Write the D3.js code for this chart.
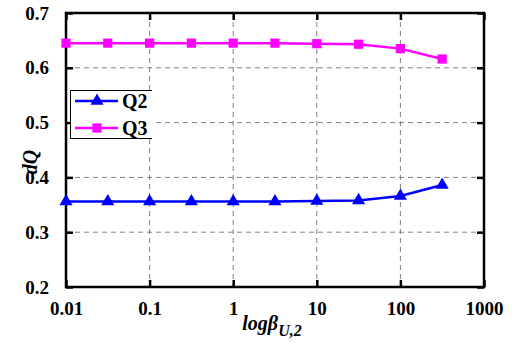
<!DOCTYPE html>
<html>
<head>
<meta charset="utf-8">
<script src="https://cdn.jsdelivr.net/npm/d3@7"></script>
<style>
  body { margin: 0; background: #fff; }
  svg { display: block; }
  svg text { font-family: "Liberation Serif", "Times New Roman", serif; }
</style>
</head>
<body>
<svg id="chart"></svg>
<script>
// data
const betaValues = [0.01, 0.0316, 0.1, 0.316, 1, 3.16, 10, 31.6, 100, 316];
const q2Values = [0.356, 0.356, 0.356, 0.356, 0.356, 0.356, 0.357, 0.358, 0.366, 0.386];
const q3Values = [0.645, 0.645, 0.645, 0.645, 0.645, 0.645, 0.644, 0.643, 0.635, 0.616];
const xTicks = [0.01, 0.1, 1, 10, 100, 1000];
const xTickLabels = ['0.01', '0.1', '1', '10', '100', '1000'];
const yTicks = [0.2, 0.3, 0.4, 0.5, 0.6, 0.7];
const seriesNames = ['Q2', 'Q3'];

const width = 519, height = 347;
const margin = {top: 13, right: 35, bottom: 60, left: 66};
const innerW = width - margin.left - margin.right;
const innerH = height - margin.top - margin.bottom;

const svg = d3.select('#chart')
    .attr('width', width)
    .attr('height', height);

const chart = svg.append('g')
    .attr('transform', `translate(${margin.left}, ${margin.top})`);

const xscale = d3.scaleLog().domain([0.01, 1000]).range([0, innerW]);
const yscale = d3.scaleLinear().domain([0.2, 0.7]).range([innerH, 0]);

// grid
chart.append('g').selectAll('line')
    .data(xTicks.slice(1, -1))
    .join('line')
    .attr('x1', d => xscale(d)).attr('x2', d => xscale(d))
    .attr('y1', 0).attr('y2', innerH)
    .attr('stroke', '#808080').attr('stroke-width', 1)
    .attr('stroke-dasharray', '5,4');

chart.append('g').selectAll('line')
    .data(yTicks.slice(1, -1))
    .join('line')
    .attr('y1', d => yscale(d)).attr('y2', d => yscale(d))
    .attr('x1', 0).attr('x2', innerW)
    .attr('stroke', '#808080').attr('stroke-width', 1)
    .attr('stroke-dasharray', '5,4');

// axes with inward ticks
const tickLen = 7;
const xaxis = d3.axisBottom(xscale).tickValues(xTicks)
    .tickFormat((d, i) => xTickLabels[i])
    .tickSize(-tickLen).tickPadding(tickLen + 8);
const yaxis = d3.axisLeft(yscale).tickValues(yTicks)
    .tickFormat(d3.format('.1f'))
    .tickSize(-tickLen).tickPadding(tickLen + 10);

const xg = chart.append('g')
    .attr('transform', `translate(0, ${innerH})`)
    .call(xaxis);
const yg = chart.append('g').call(yaxis);
const xtop = chart.append('g')
    .call(d3.axisTop(xscale).tickValues(xTicks).tickSize(-tickLen).tickFormat(''));
const yright = chart.append('g')
    .attr('transform', `translate(${innerW}, 0)`)
    .call(d3.axisRight(yscale).tickValues(yTicks).tickSize(-tickLen).tickFormat(''));

[xg, yg, xtop, yright].forEach(g => {
    g.attr('font-family', null).attr('font-size', null);
    g.select('.domain').remove();
    g.selectAll('line').attr('stroke', '#000').attr('stroke-width', 2.5);
    g.selectAll('text')
        .attr('fill', '#000')
        .style('font-size', '19px')
        .style('font-weight', 'bold');
});

chart.append('rect')
    .attr('x', 0).attr('y', 0)
    .attr('width', innerW).attr('height', innerH)
    .attr('fill', 'none')
    .attr('stroke', '#000')
    .attr('stroke-width', 2.5);

// series
const series = [
    {name: seriesNames[0], values: q2Values, color: '#0000ff', symbol: d3.symbolTriangle, size: 75},
    {name: seriesNames[1], values: q3Values, color: '#ff00ff', symbol: d3.symbolSquare, size: 85}
];

const line = d3.line()
    .x((d, i) => xscale(betaValues[i]))
    .y(d => yscale(d));

series.forEach(s => {
    chart.append('path')
        .datum(s.values)
        .attr('d', line)
        .attr('fill', 'none')
        .attr('stroke', s.color)
        .attr('stroke-width', 2.5);

    chart.append('g').selectAll('path')
        .data(s.values)
        .join('path')
        .attr('d', d3.symbol().type(s.symbol).size(s.size))
        .attr('transform', (d, i) => `translate(${xscale(betaValues[i])}, ${yscale(d)})`)
        .attr('fill', s.color);
});

// legend
const legend = svg.append('g').attr('transform', 'translate(70, 90)');
legend.append('rect')
    .attr('x', 0).attr('y', 0).attr('width', 82).attr('height', 49)
    .attr('fill', '#fff');
legend.append('path')
    .attr('d', 'M82,0.5 H0.5 V48.5 H82')
    .attr('fill', 'none')
    .attr('stroke', '#000')
    .attr('stroke-width', 1);

series.forEach((s, i) => {
    const y = 11 + i * 27;
    legend.append('line')
        .attr('x1', 5).attr('x2', 48)
        .attr('y1', y).attr('y2', y)
        .attr('stroke', s.color).attr('stroke-width', 2.5);
    legend.append('path')
        .attr('d', d3.symbol().type(s.symbol).size(s.size))
        .attr('transform', `translate(27, ${y})`)
        .attr('fill', s.color);
    legend.append('text')
        .attr('x', 52).attr('y', y + 7)
        .style('font-size', '20px')
        .style('font-weight', 'bold')
        .text(s.name);
});

// axis titles
const xlabel = svg.append('text')
    .attr('x', margin.left + innerW / 2 - 3)
    .attr('y', 330)
    .attr('text-anchor', 'middle')
    .style('font-size', '20px')
    .style('font-weight', 'bold')
    .style('font-style', 'italic');
xlabel.append('tspan').text('logβ');
xlabel.append('tspan').attr('dy', 6).style('font-size', '16px').text('U,2');

svg.append('text')
    .attr('transform', 'rotate(-90)')
    .attr('x', -162)
    .attr('y', 37)
    .attr('text-anchor', 'middle')
    .style('font-size', '20px')
    .style('font-weight', 'bold')
    .style('font-style', 'italic')
    .text('dQ');
</script>
</body>
</html>
